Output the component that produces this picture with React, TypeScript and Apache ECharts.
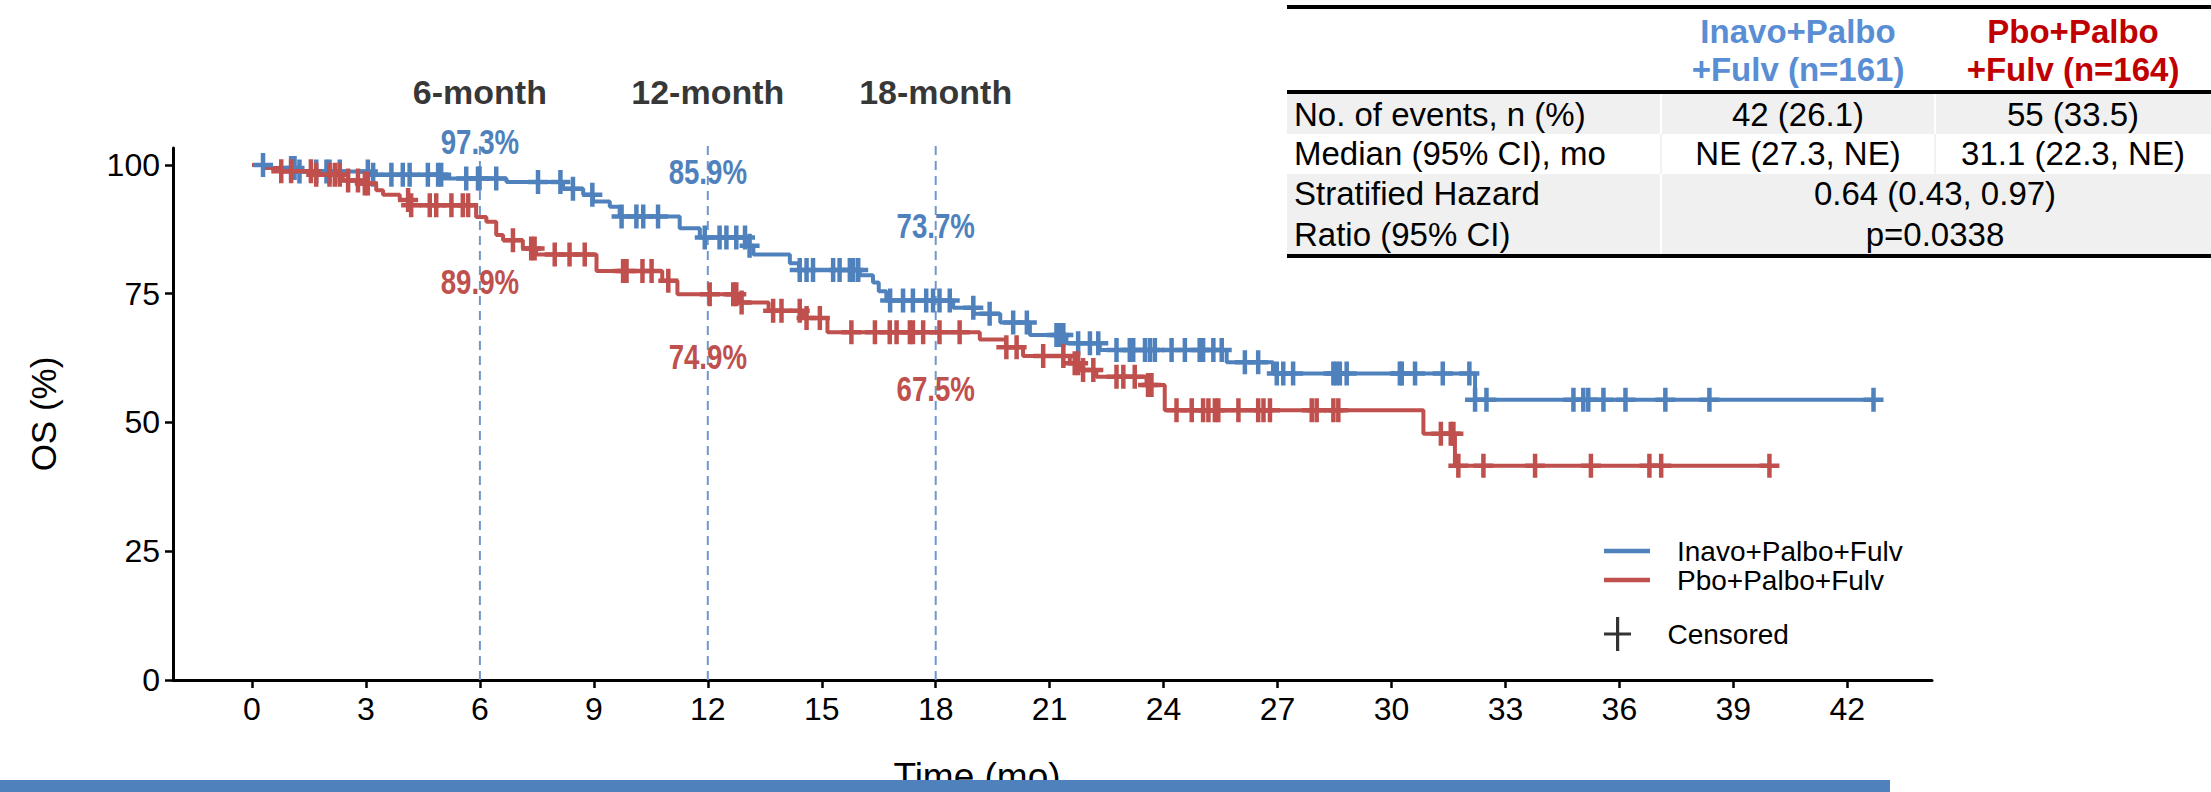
import React, { useEffect, useRef } from "react";
import * as echarts from "echarts";

// ---------- data ----------
const xTickValues = [0, 3, 6, 9, 12, 15, 18, 21, 24, 27, 30, 33, 36, 39, 42];
const yTickValues = [0, 25, 50, 75, 100];

const armNames = ["Inavo+Palbo+Fulv", "Pbo+Palbo+Fulv"];
const censoredName = "Censored";

// Kaplan-Meier steps: time (months) at which the survival drops to the value
const inavoTimes = [0, 0.38, 1.17, 3.1, 5.03, 6.7, 8.19, 8.72, 8.98, 9.42, 9.68, 11.26, 11.79, 13.0, 13.2, 14.16, 14.4, 16.0, 16.35, 16.5, 16.7, 18.46, 19.0, 19.7, 20.48, 21.44, 22.32, 25.66, 26.88, 32.2, 42.69];
const inavoSurv = [100, 99.4, 98.75, 98.1, 97.4, 96.7, 95.4, 94.2, 92.9, 91.9, 90.0, 87.7, 85.9, 84.3, 82.6, 80.9, 79.6, 78.6, 77.2, 75.5, 73.7, 72.3, 71.1, 69.4, 67.0, 65.4, 64.1, 61.7, 59.5, 54.4, 54.4];
const pboTimes = [0, 0.3, 0.73, 1.6, 2.39, 2.92, 3.27, 3.45, 3.89, 4.15, 5.9, 6.17, 6.43, 6.61, 7.13, 7.48, 9.07, 10.8, 11.2, 12.8, 13.6, 14.5, 15.15, 19.16, 19.85, 20.3, 21.53, 21.8, 22.23, 23.55, 24.03, 30.84, 31.67, 39.95];
const pboSurv = [100, 99.4, 98.8, 98.1, 97.0, 96.4, 95.1, 94.2, 93.2, 92.2, 89.9, 89.0, 86.4, 85.4, 83.8, 82.6, 79.4, 77.5, 74.9, 73.3, 71.7, 70.3, 67.5, 66.1, 64.6, 62.9, 61.5, 60.2, 58.9, 57.3, 52.4, 47.8, 41.6, 41.6];

// censoring times (months)
const inavoCensor = [0.29, 1.03, 1.12, 1.25, 1.69, 1.96, 2.04, 2.31, 3.05, 3.19, 3.67, 3.97, 4.15, 4.63, 4.9, 4.98, 5.64, 5.95, 5.99, 6.43, 7.53, 8.12, 8.45, 8.96, 9.73, 10.12, 10.3, 10.69, 11.92, 12.31, 12.49, 12.75, 12.98, 13.1, 14.42, 14.6, 14.77, 15.3, 15.47, 15.74, 15.83, 15.96, 16.8, 17.14, 17.4, 17.75, 17.93, 18.1, 18.37, 18.99, 19.42, 20.04, 20.4, 21.18, 21.27, 21.36, 21.75, 22.06, 22.28, 22.76, 23.11, 23.2, 23.51, 23.64, 23.77, 24.21, 24.56, 24.95, 25.04, 25.31, 25.53, 26.14, 26.49, 26.98, 27.15, 27.41, 28.47, 28.55, 28.64, 28.82, 30.22, 30.27, 30.62, 31.35, 32.05, 32.2, 32.5, 34.79, 35.05, 35.18, 35.58, 36.16, 37.21, 38.37, 42.69];
const pboCensor = [0.77, 1.03, 1.55, 1.69, 2.04, 2.18, 2.31, 2.53, 2.79, 2.97, 3.05, 4.11, 4.19, 4.68, 4.85, 5.25, 5.55, 5.69, 6.87, 7.35, 7.44, 7.97, 8.36, 8.76, 9.77, 9.86, 10.28, 10.52, 10.96, 12.05, 12.67, 12.75, 12.89, 13.72, 13.94, 14.42, 14.6, 14.95, 15.78, 16.4, 16.79, 16.97, 17.32, 17.4, 17.67, 18.1, 18.63, 19.86, 20.13, 20.83, 21.36, 21.66, 21.75, 21.88, 22.15, 22.76, 22.94, 23.24, 23.59, 23.68, 24.34, 24.74, 25.04, 25.18, 25.35, 25.44, 25.97, 26.49, 26.63, 26.8, 27.9, 28.03, 28.47, 28.6, 31.3, 31.56, 31.63, 31.76, 32.42, 33.78, 35.25, 36.79, 37.1, 39.95];

// landmark annotations
const landmarkMonths = [6, 12, 18];
const landmarkTitles = ["6-month", "12-month", "18-month"];
const inavoLandmarkLabels = ["97.3%", "85.9%", "73.7%"];
const pboLandmarkLabels = ["89.9%", "74.9%", "67.5%"];

// summary table
const tableHeaderInavo = ["Inavo+Palbo", "+Fulv (n=161)"];
const tableHeaderPbo = ["Pbo+Palbo", "+Fulv (n=164)"];
const tableRowLabels = ["No. of events, n (%)", "Median (95% CI), mo", "Stratified Hazard", "Ratio (95% CI)"];
const tableInavo = ["42 (26.1)", "NE (27.3, NE)"];
const tablePbo = ["55 (33.5)", "31.1 (22.3, NE)"];
const tableHR = ["0.64 (0.43, 0.97)", "p=0.0338"];

// ---------- styles / layout ----------
const FONT = "'Liberation Sans', Arial, Helvetica, sans-serif";
const BLUE = "#4F81BD";
const RED = "#C0504D";
const DASH = "#7097CC";
const CENSOR_PATH = "path://M7.75,0 H12.25 V9.75 H20 V14.25 H12.25 V24 H7.75 V14.25 H0 V9.75 H7.75 Z";
const LEGEND_LINE = "path://M0,0 H46 V4.5 H0 Z";
const LEGEND_PLUS = "path://M12,0 H15.2 V15.4 H27 V18.6 H15.2 V34 H12 V18.6 H0 V15.4 H12 Z";
const X_MIN = -2.08;
const X_MAX = 44.23;
const Y_MAX = 103.3;
const LANDMARK_TOP = 104.5;
const TITLE_Y = 114.2;
const INAVO_LABEL_Y = [104.5, 98.6, 88.2];
const PBO_LABEL_Y = [77.3, 62.7, 56.5];
const CONDENSE = 0.79;

function levelAt(times: number[], surv: number[], t: number) {
  let v = surv[0];
  for (let i = 0; i < times.length; i++) if (times[i] <= t) v = surv[i];
  return v;
}

function buildTable() {
  const els: any[] = [];
  const X0 = 1287, X1 = 2211, C1 = 1661, C2 = 1935;
  const GRAY = "#F0F0F0";
  const rowTop = [94, 134, 174, 214];
  const rowH = 40;
  els.push({ type: "rect", shape: { x: X0, y: rowTop[0], width: C1 - X0 - 1, height: rowH }, style: { fill: GRAY } });
  els.push({ type: "rect", shape: { x: C1 + 1, y: rowTop[0], width: C2 - C1 - 2, height: rowH }, style: { fill: GRAY } });
  els.push({ type: "rect", shape: { x: C2 + 1, y: rowTop[0], width: X1 - C2 - 1, height: rowH }, style: { fill: GRAY } });
  els.push({ type: "rect", shape: { x: X0, y: rowTop[2], width: C1 - X0 - 1, height: rowH * 2 }, style: { fill: GRAY } });
  els.push({ type: "rect", shape: { x: C1 + 1, y: rowTop[2], width: X1 - C1 - 1, height: rowH * 2 }, style: { fill: GRAY } });
  els.push({ type: "line", shape: { x1: C1, y1: rowTop[1], x2: C1, y2: rowTop[2] }, style: { stroke: "#E4E4E4", lineWidth: 1 } });
  els.push({ type: "line", shape: { x1: C2, y1: rowTop[1], x2: C2, y2: rowTop[2] }, style: { stroke: "#E4E4E4", lineWidth: 1 } });
  [5, 90, 254].forEach((y) => els.push({ type: "rect", shape: { x: X0, y, width: X1 - X0, height: 4 }, style: { fill: "#000" } }));
  const txt = (text: string, x: number, y: number, align: string, extra: any = {}) => ({
    type: "text", x, y,
    style: { text, fill: "#000", fontSize: 33, fontFamily: FONT, align, verticalAlign: "middle", ...extra },
  });
  const headerY = [31, 69];
  tableHeaderInavo.forEach((t, i) => els.push(txt(t, (C1 + C2) / 2, headerY[i], "center", { fill: "#5A8ED4", fontWeight: "bold", fontSize: 33 })));
  tableHeaderPbo.forEach((t, i) => els.push(txt(t, (C2 + X1) / 2, headerY[i], "center", { fill: "#C00000", fontWeight: "bold", fontSize: 33 })));
  const rowY = [114, 153, 193, 234];
  tableRowLabels.forEach((t, i) => els.push(txt(t, X0 + 7, rowY[i], "left")));
  tableInavo.forEach((t, i) => els.push(txt(t, (C1 + C2) / 2, rowY[i], "center")));
  tablePbo.forEach((t, i) => els.push(txt(t, (C2 + X1) / 2, rowY[i], "center")));
  tableHR.forEach((t, i) => els.push(txt(t, C2, rowY[i + 2], "center")));
  return els;
}

export default function App() {
  const ref = useRef<HTMLDivElement>(null);

  useEffect(() => {
    document.body.style.margin = "0";
    if (!ref.current) return;
    const chart = echarts.init(ref.current, undefined, { renderer: "svg" });

    const km = (name: string, times: number[], surv: number[], color: string) => ({
      name, type: "line", step: "end", symbol: "none", z: 3, silent: true,
      data: times.map((t, i) => [t, surv[i]]),
      lineStyle: { color, width: 4 }, itemStyle: { color },
    });
    const censor = (name: string, cens: number[], times: number[], surv: number[], color: string) => ({
      name, type: "scatter", symbol: CENSOR_PATH, symbolSize: [20, 24], z: 4, silent: true,
      data: cens.map((t) => [t, levelAt(times, surv, t)]),
      itemStyle: { color, opacity: 1 },
    });
    const landmarkLines = landmarkMonths.map((m) => ({
      name: "landmark-" + m, type: "line", symbol: "none", clip: false, z: 1, silent: true,
      data: [[m, 0], [m, LANDMARK_TOP]],
      lineStyle: { color: DASH, width: 2, type: [9, 6] },
    }));
    const titleData = landmarkMonths.map((m, i) => ({
      value: [m, TITLE_Y],
      label: { formatter: landmarkTitles[i], color: "#000", fontWeight: "bold", fontSize: 34, fontFamily: FONT },
    }));

    const option: any = {
      animation: false,
      backgroundColor: "#fff",
      textStyle: { fontFamily: FONT },
      grid: { left: 173, right: 279, top: 148, bottom: 112, containLabel: false },
      xAxis: {
        type: "value", min: X_MIN, max: X_MAX,
        axisLine: { show: true, onZero: false, lineStyle: { color: "#000", width: 3 } },
        axisTick: { show: true, length: 8, customValues: xTickValues, lineStyle: { color: "#000", width: 2.5 } },
        axisLabel: { show: true, customValues: xTickValues, margin: 13, fontSize: 32, color: "#000", fontFamily: FONT },
        splitLine: { show: false },
      },
      yAxis: {
        type: "value", min: 0, max: Y_MAX,
        name: "OS (%)", nameLocation: "middle", nameGap: 112, nameRotate: 90,
        nameTextStyle: { fontSize: 35, color: "#000", fontFamily: FONT },
        axisLine: { show: true, onZero: false, lineStyle: { color: "#000", width: 3 } },
        axisTick: { show: true, length: 8, customValues: yTickValues, lineStyle: { color: "#000", width: 2.5 } },
        axisLabel: { show: true, customValues: yTickValues, margin: 13, fontSize: 32, color: "#000", fontFamily: FONT },
        splitLine: { show: false },
      },
      legend: [
        {
          data: armNames.map((n) => ({ name: n, icon: LEGEND_LINE })),
          orient: "vertical", left: 1599, top: 532, itemWidth: 46, itemHeight: 34, itemGap: 1,
          selectedMode: false,
          textStyle: { fontSize: 28, color: "#000", fontFamily: FONT, padding: [0, 0, 0, 22] },
        },
        {
          data: [{ name: censoredName, icon: LEGEND_PLUS }],
          orient: "vertical", left: 1599, top: 612, itemWidth: 46, itemHeight: 34,
          selectedMode: false,
          textStyle: { fontSize: 28, color: "#000", fontFamily: FONT, padding: [0, 0, 0, 22] },
        },
      ],
      series: [
        ...landmarkLines,
        km(armNames[0], inavoTimes, inavoSurv, BLUE),
        km(armNames[1], pboTimes, pboSurv, RED),
        censor("inavo-censor", inavoCensor, inavoTimes, inavoSurv, BLUE),
        censor("pbo-censor", pboCensor, pboTimes, pboSurv, RED),
        { name: censoredName, type: "scatter", data: [], symbol: LEGEND_PLUS, itemStyle: { color: "#000" } },
        {
          name: "landmark-titles", type: "scatter", symbolSize: 0, clip: false, silent: true, z: 5,
          data: titleData,
          label: { show: true, position: "inside" },
        },
      ],
    };
    chart.setOption(option);

    // landmark survival labels, positioned through the chart's own scales
    const pctLabels: any[] = [];
    landmarkMonths.forEach((m, i) => {
      const pb = chart.convertToPixel({ gridIndex: 0 }, [m, INAVO_LABEL_Y[i]]) as number[];
      const pr = chart.convertToPixel({ gridIndex: 0 }, [m, PBO_LABEL_Y[i]]) as number[];
      pctLabels.push({ type: "text", x: pb[0], y: pb[1], scaleX: CONDENSE, z: 6, style: { text: inavoLandmarkLabels[i], fill: BLUE, fontSize: 35, fontWeight: "bold", fontFamily: FONT, align: "center", verticalAlign: "middle" } });
      pctLabels.push({ type: "text", x: pr[0], y: pr[1], scaleX: CONDENSE, z: 6, style: { text: pboLandmarkLabels[i], fill: RED, fontSize: 35, fontWeight: "bold", fontFamily: FONT, align: "center", verticalAlign: "middle" } });
    });

    chart.setOption({
      graphic: [
        ...buildTable(),
        ...pctLabels,
        { type: "text", x: 977, y: 776, z: 10, style: { text: "Time (mo)", fontSize: 37, fill: "#000", fontFamily: FONT, align: "center", verticalAlign: "middle" } },
        { type: "rect", z: 20, shape: { x: 0, y: 780, width: 1890, height: 12 }, style: { fill: BLUE } },
      ],
    });
    return () => chart.dispose();
  }, []);

  return <div ref={ref} style={{ width: 2211, height: 792, overflow: "hidden" }} />;
}
